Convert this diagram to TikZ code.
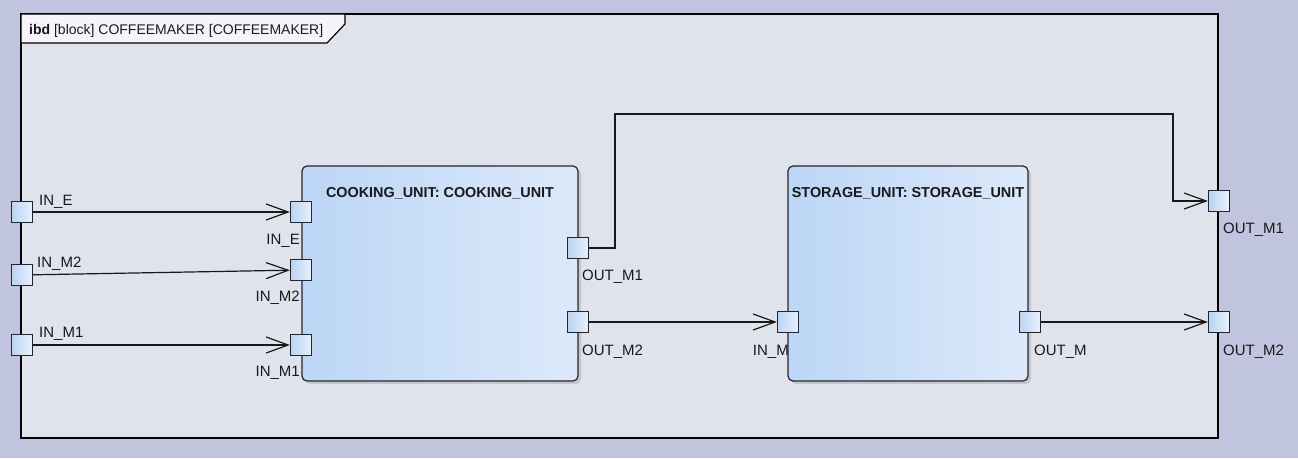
\documentclass[tikz,border=0pt]{standalone}
\usepackage{fontspec}
\setmainfont{Liberation Sans}
\usepackage{tikz}
\usetikzlibrary{arrows.meta}
\definecolor{BGcolor}{RGB}{192,196,222}
\definecolor{FRAMEcolor}{RGB}{225,227,236}
\definecolor{TABcolor}{RGB}{246,244,248}
\definecolor{BLOCKleft}{RGB}{187,214,246}
\definecolor{BLOCKright}{RGB}{221,233,250}
\definecolor{PORTleft}{RGB}{184,212,244}
\definecolor{PORTright}{RGB}{232,241,252}

\begin{document}
\begin{tikzpicture}[x=1pt, y=-1pt, font=\fontsize{15}{18}\selectfont]

    \tikzset{%
        block/.style={draw=black!85, line width=1.2pt, rounded corners=5pt, left color=BLOCKleft, right color=BLOCKright, minimum width=#1, minimum height=215pt, inner sep=0pt},
        port/.style={draw=black!85, line width=1.2pt, minimum size=21pt, inner sep=0pt, left color=PORTleft, right color=PORTright},
        plabel/.style={inner sep=0pt, text=black!90},
        btitle/.style={plabel, anchor=base, font=\fontsize{14.4}{17}\selectfont\bfseries},
        flow/.style={draw=black!90, line width=1.2pt, -{Straight Barb[length=22pt, width=16pt, line width=1.2pt]}},
    }

    \fill [BGcolor] (0, 0) rectangle (1298, 458);
    \useasboundingbox (0, 0) rectangle (1298, 458);

    \draw [line width=1.5pt, fill=FRAMEcolor] (21, 14) rectangle (1218, 438);
    \draw [line width=1.2pt, fill=TABcolor] (21, 14) -- (345, 14) -- (345, 24) -- (327, 43) -- (21, 43) -- cycle;
    \node [plabel, anchor=base west, font=\fontsize{14}{17}\selectfont] (title) at (29, 34) {\textbf{ibd} [block] COFFEEMAKER [COFFEEMAKER]};

    \fill [black, opacity=0.12, rounded corners=5pt] (305, 169) rectangle (581, 384);
    \fill [black, opacity=0.12, rounded corners=5pt] (791, 169) rectangle (1031, 384);
    \node [block=276pt] (cooking) at (440, 273.5) {};
    \node [block=240pt] (storage) at (908, 273.5) {};
    \node [btitle] (cookingtitle) at (440, 197) {COOKING\_UNIT: COOKING\_UNIT};
    \node [btitle] (storagetitle) at (908, 197) {STORAGE\_UNIT: STORAGE\_UNIT};

    \foreach \name/\anc/\x/\y/\txt in {%
            lfINE/base west/39/205/IN\_E, lfINMb/base west/37/267/IN\_M2, lfINMa/base west/39/337/IN\_M1,
            lcINE/base east/300/244/IN\_E, lcINMb/base east/300/301/IN\_M2, lcINMa/base east/300/376/IN\_M1,
            lcOUTMa/base west/582/280/OUT\_M1, lcOUTMb/base west/582/355/OUT\_M2,
            lsINM/base east/789/355/IN\_M, lsOUTM/base west/1034/355/OUT\_M,
            lfOUTMa/base west/1223/233/OUT\_M1, lfOUTMb/base west/1223/355/OUT\_M2} {%
            \node [plabel, anchor=\anc] (\name) at (\x, \y) {\txt};
        }

    \foreach \name/\x/\y in {fINE/22/212, fINMb/22/275, fINMa/22/345,
            cINE/301/212, cINMb/301/270, cINMa/301/345,
            cOUTMa/578/248, cOUTMb/578/322, sINM/788/322, sOUTM/1030/322,
            fOUTMa/1219/201, fOUTMb/1219/322} {%
            \node [port] (\name) at (\x, \y) {};
        }

    \coordinate (bendA) at (615, 114);
    \coordinate (bendB) at (1173, 114);

    \draw [flow] (fINE) -- (cINE);
    \draw [flow] (fINMb) -- (cINMb);
    \draw [flow] (fINMa) -- (cINMa);
    \draw [flow] (cOUTMb) -- (sINM);
    \draw [flow] (sOUTM) -- (fOUTMb);
    \draw [flow] (cOUTMa.east) -| (bendA) -- (bendB) |- (fOUTMa.west);

\end{tikzpicture}
\end{document}
